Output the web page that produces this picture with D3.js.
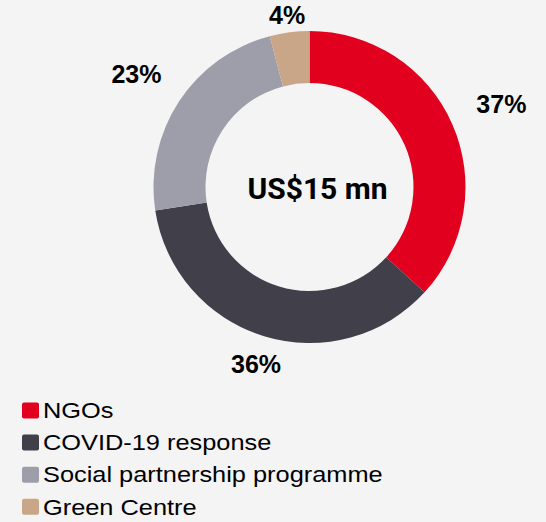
<!DOCTYPE html>
<html>
<head>
<meta charset="utf-8">
<script src="https://cdnjs.cloudflare.com/ajax/libs/d3/7.8.5/d3.min.js"></script>
<style>
  html, body { margin: 0; padding: 0; background: #f4f4f4; }
  svg { display: block; }
</style>
</head>
<body>
<div id="chart"></div>
<script>
// chart data
var categories = ['NGOs', 'COVID-19 response', 'Social partnership programme', 'Green Centre'];
var shares = [36.8, 35.8, 23.3, 4.1];
var colours = ['#e2001f', '#413f4a', '#9e9daa', '#c9a688'];
var centreLabel = 'US$15 mn';

var width = 546, height = 522,
    cx = 309.5, cy = 187,
    outerR = 156, innerR = 104;

var svg = d3.select('#chart').append('svg')
  .attr('width', width).attr('height', height);

svg.append('rect').attr('width', width).attr('height', height).attr('fill', '#f4f4f4');

var g = svg.append('g').attr('transform', 'translate(' + cx + ',' + cy + ')');

var pie = d3.pie().sort(null).value(function(d) { return d.value; });
var arc = d3.arc().innerRadius(innerR).outerRadius(outerR);

var d = categories.map(function(c, i) { return { name: c, value: shares[i], colour: colours[i] }; });
var arcs = pie(d);

g.selectAll('path.slice').data(arcs).enter().append('path')
  .attr('class', 'slice')
  .attr('d', arc)
  .attr('fill', function(d) { return d.data.colour; });

// outside-end labels, pushed out by the box size so they clear the ring
var total = d3.sum(shares);
g.selectAll('text.pct').data(arcs).enter().append('text')
  .attr('class', 'pct')
  .attr('text-anchor', 'middle')
  .attr('dominant-baseline', 'central')
  .style('font-family', '"Liberation Sans", Arial, sans-serif')
  .style('font-weight', 'bold')
  .style('font-size', '25px')
  .attr('fill', '#000')
  .text(function(d) { return Math.round(d.data.value / total * 100) + '%'; })
  .each(function(d) {
    var a = (d.startAngle + d.endAngle) / 2,
        w = this.getBBox().width,
        r = outerR + 4 + w * Math.abs(Math.sin(a)) + 9.5 * Math.abs(Math.cos(a));
    d3.select(this).attr('x', r * Math.sin(a)).attr('y', -r * Math.cos(a) + 1);
  });

// centre total, sits a little right of the hole's centre in the original
g.append('text')
  .attr('text-anchor', 'middle')
  .attr('dominant-baseline', 'central')
  .attr('x', 8)
  .attr('y', 1)
  .style('font-family', 'Roboto, sans-serif')
  .style('font-weight', 'bold')
  .style('font-size', '30px')
  .attr('fill', '#000')
  .text(centreLabel);

// legend (text is drawn a bit wide in the original)
var legend = svg.append('g').attr('transform', 'translate(22,410.5)');
var row = legend.selectAll('g').data(d).enter().append('g')
  .attr('transform', function(d, i) { return 'translate(0,' + (i * 32.1) + ')'; });

row.append('rect')
  .attr('x', 0).attr('y', -8)
  .attr('width', 17).attr('height', 16)
  .attr('rx', 2)
  .attr('fill', function(d) { return d.colour; });

row.append('text')
  .attr('transform', 'translate(21,0) scale(1.18,1)')
  .attr('dy', '0.36em')
  .style('font-family', '"Liberation Sans", Arial, sans-serif')
  .style('font-size', '21.5px')
  .attr('fill', '#000')
  .text(function(d) { return d.name; });
</script>
</body>
</html>
